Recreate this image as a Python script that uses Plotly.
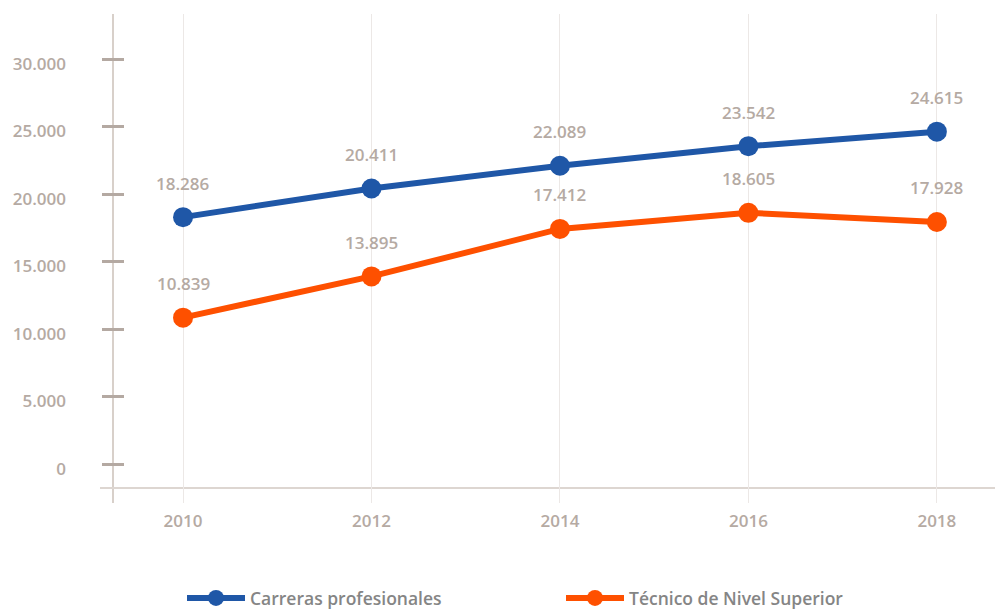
import plotly.graph_objects as go

years = [2010, 2012, 2014, 2016, 2018]
carreras = [18286, 20411, 22089, 23542, 24615]
tecnico = [10839, 13895, 17412, 18605, 17928]
y_ticks = [0, 5000, 10000, 15000, 20000, 25000, 30000]
series_names = ["Carreras profesionales", "Técnico de Nivel Superior"]

BLUE = "#1f57a7"
ORANGE = "#fe5000"
LABEL = "#b5aaa3"
FONT = "Open Sans"

def fmt(v):
    return f"{v:,}".replace(",", ".")

fig = go.Figure()
for name, vals, col in [(series_names[0], carreras, BLUE), (series_names[1], tecnico, ORANGE)]:
    fig.add_trace(go.Scatter(
        x=years, y=vals, name=name, mode="lines+markers",
        line=dict(color=col, width=6),
        marker=dict(color=col, size=20),
        hoverinfo="skip",
    ))

annotations = []
for vals in (carreras, tecnico):
    for x, v in zip(years, vals):
        annotations.append(dict(
            x=x, y=v, text=fmt(v), showarrow=False, yshift=34,
            font=dict(family=FONT, size=17, color=LABEL, weight=600),
        ))

OFF = 8  # page body margin
W, H = 1003 - OFF, 609 - OFF
L, R, T, B = 102 - OFF, 3, 14 - OFF, 106
pw = W - L - R
ph = H - T - B
bottom_px = 503  # plot bottom in page pixels

def px_x(p):
    return (p - 102) / pw

def px_y(p):
    return (bottom_px - p) / ph

shapes = [
    dict(type="line", xref="paper", yref="paper",
         x0=px_x(113), x1=px_x(113), y0=0, y1=1,
         line=dict(color="#d8d0ca", width=2), layer="below"),
    dict(type="line", xref="paper", yref="paper",
         x0=px_x(100), x1=px_x(1000), y0=px_y(488), y1=px_y(488),
         line=dict(color="#ddd6d1", width=2), layer="below"),
]

fig.update_layout(
    width=W, height=H,
    margin=dict(l=L, r=R, t=T, b=B, autoexpand=False),
    paper_bgcolor="white", plot_bgcolor="white",
    separators=",.",
    font=dict(family=FONT, size=17, color=LABEL, weight=600),
    showlegend=True,
    legend=dict(
        orientation="h", x=px_x(182), xanchor="left",
        y=px_y(598), yanchor="middle",
        entrywidth=306, entrywidthmode="pixels",
        itemwidth=58,
        font=dict(family=FONT, size=17.5, color="#858585", weight=600),
    ),
    xaxis=dict(
        range=[2009.14, 2018.67],
        tickvals=years, ticktext=[str(y) for y in years],
        showgrid=True, gridcolor="#ece8e6", gridwidth=1,
        zeroline=False, showline=False, ticks="",
        ticklabelstandoff=6,
        tickfont=dict(family=FONT, size=17, color=LABEL, weight=600),
        fixedrange=True,
    ),
    yaxis=dict(
        range=[-2889, 33333],
        tickvals=y_ticks, ticktext=[fmt(v) for v in y_ticks],
        showgrid=False, zeroline=False, showline=False,
        ticks="inside", ticklen=22, tickwidth=3, tickcolor="#b4a9a2",
        ticklabelstandoff=35, ticklabelshift=5,
        tickfont=dict(family=FONT, size=17, color=LABEL, weight=600),
        fixedrange=True,
    ),
    annotations=annotations,
    shapes=shapes,
)

fig.write_html("out.html")
